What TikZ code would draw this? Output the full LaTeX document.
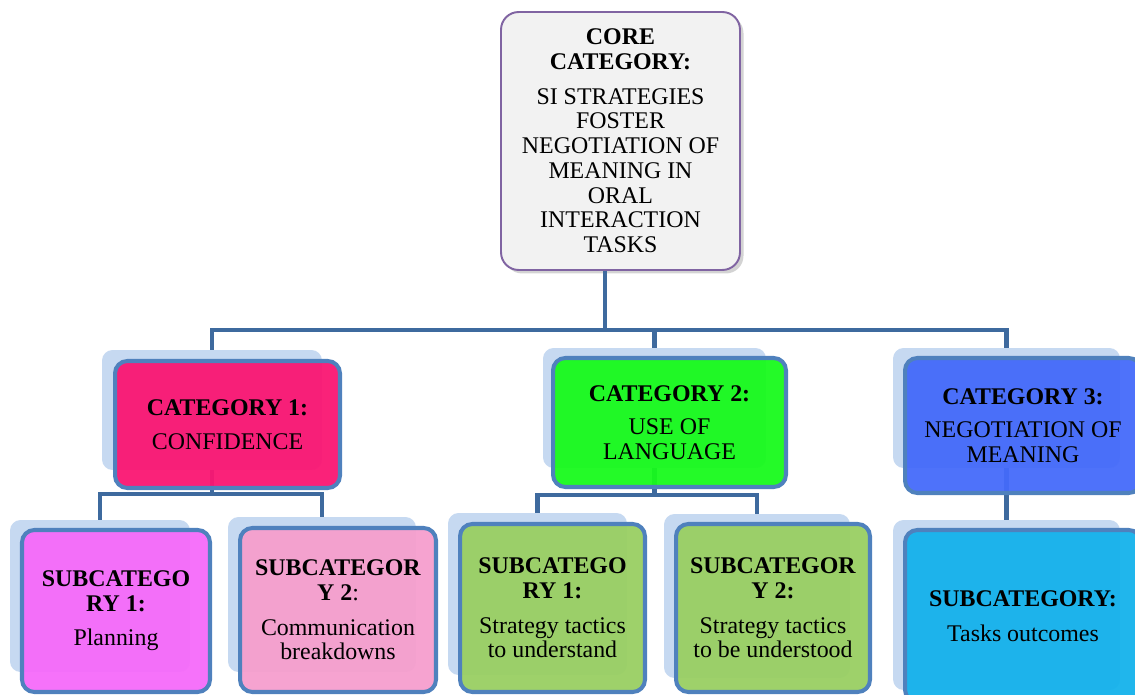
\documentclass[tikz,border=0pt]{standalone}
\usepackage{fontspec}
\setmainfont{Liberation Serif}
\usetikzlibrary{shadows}
\definecolor{coreFill}{HTML}{F2F2F2}
\definecolor{coreLine}{HTML}{8064A2}
\definecolor{cardBack}{HTML}{C6D9F1}
\definecolor{boxLine}{HTML}{4F81BD}
\definecolor{linkLine}{HTML}{3E6A9E}
\definecolor{catA}{RGB}{250,22,114}
\definecolor{catB}{RGB}{24,250,28}
\definecolor{catC}{RGB}{68,106,250}
\definecolor{subA}{RGB}{246,106,250}
\definecolor{subB}{RGB}{246,158,205}
\definecolor{subC}{RGB}{153,207,98}
\definecolor{subD}{RGB}{20,178,235}
\begin{document}
\begin{tikzpicture}[x=0.02cm,y=-0.02cm,
    back/.style={fill=cardBack,rounded corners=6pt,inner sep=0pt},
    box/.style={draw=boxLine,line width=2.3pt,rounded corners=7pt,fill opacity=0.95,text opacity=1,align=center,inner sep=2pt,font=\fontsize{13.6}{14.1}\selectfont},
    link/.style={draw=linkLine,line width=2.3pt}]
    \clip (0,0) rectangle (1135,695);
    % core category
    \node[draw=coreLine,line width=1.1pt,fill=coreFill,rounded corners=10pt,align=center,
        minimum width=4.78cm,minimum height=5.16cm,font=\fontsize{13.6}{14.1}\selectfont,
        drop shadow={shadow xshift=2pt,shadow yshift=-2pt,opacity=0.35}] (core) at (620.5,141)
        {\textbf{CORE}\\\textbf{CATEGORY:}\\[5.5pt]SI STRATEGIES\\FOSTER\\NEGOTIATION OF\\MEANING IN\\ORAL\\INTERACTION\\TASKS};
    % cards behind the boxes
    \foreach \n/\x/\y/\w/\h in {cat1/212/410/4.4/2.4, cat2/654.5/408/4.46/2.4, cat3/1006.5/408/4.54/2.4,
        sub1/100/596/3.6/3.04, sub2/322/594.5/3.76/3.1, sub3/537.5/594/3.58/3.24,
        sub4/757/596/3.72/3.28, sub5/1006.5/605/4.54/3.4}
        \node[back,minimum width=\w cm,minimum height=\h cm] (\n s) at (\x,\y) {};
    % connectors
    \coordinate (bus) at (605,330);
    \draw[link] (bus |- core.south) -- (bus) -| (cat1s.north);
    \draw[link] (bus) -| (cat3s.north);
    \draw[link] (cat2s.north |- bus) -- (cat2s.north);
    \draw[link] (cat1s.south) -- ++(0,24) coordinate (j1) -| (sub1s.north);
    \draw[link] (j1) -| (sub2s.north);
    \draw[link] (cat2s.south) -- ++(0,27) coordinate (j2) -| (sub3s.north);
    \draw[link] (j2) -| (sub4s.north);
    \draw[link] (cat3s.south) -- (sub5s.north);
    % categories
    \node[box,fill=catA,minimum width=4.5cm,minimum height=2.54cm] (cat1) at (227.5,424.5)
        {\textbf{CATEGORY 1:}\\[5pt]CONFIDENCE};
    \node[box,fill=catB,minimum width=4.66cm,minimum height=2.58cm] (cat2) at (669.5,422.5)
        {\textbf{CATEGORY 2:}\\[5pt]USE OF\\LANGUAGE};
    \node[box,fill=catC,minimum width=4.72cm,minimum height=2.7cm] (cat3) at (1023,425.5)
        {\textbf{CATEGORY 3:}\\[5pt]NEGOTIATION OF\\MEANING};
    % subcategories
    \node[box,fill=subA,minimum width=3.76cm,minimum height=3.24cm] (sub1) at (116,611)
        {\textbf{SUBCATEGO}\\\textbf{RY 1:}\\[5.5pt]Planning};
    \node[box,fill=subB,minimum width=3.92cm,minimum height=3.28cm] (sub2) at (338,610)
        {\textbf{SUBCATEGOR}\\\textbf{Y 2}:\\[5.5pt]Communication\\breakdowns};
    \node[box,fill=subC,minimum width=3.7cm,minimum height=3.36cm] (sub3) at (552.5,608)
        {\textbf{SUBCATEGO}\\\textbf{RY 1:}\\[5.5pt]Strategy tactics\\to understand};
    \node[box,fill=subC,minimum width=3.88cm,minimum height=3.36cm] (sub4) at (773,608)
        {\textbf{SUBCATEGOR}\\\textbf{Y 2:}\\[5.5pt]Strategy tactics\\to be understood};
    \node[box,fill=subD,minimum width=4.72cm,minimum height=3.44cm] (sub5) at (1023,616)
        {\textbf{SUBCATEGORY:}\\[5.5pt]Tasks outcomes};
\end{tikzpicture}
\end{document}
